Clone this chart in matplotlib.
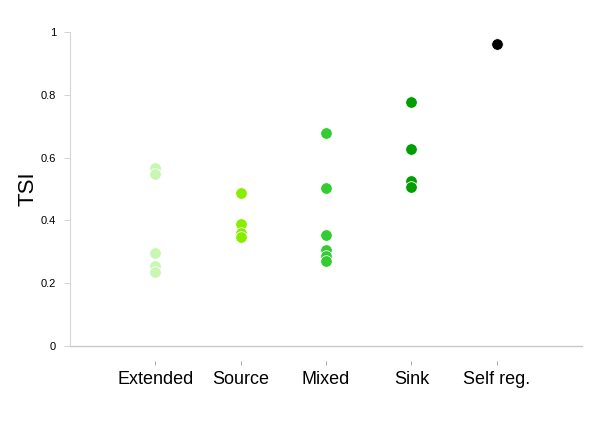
import matplotlib
matplotlib.use("Agg")
import matplotlib.pyplot as plt

plt.rcParams['font.family'] = ['Liberation Sans', 'DejaVu Sans']

# data
categories = ["Extended", "Source", "Mixed", "Sink", "Self reg."]
extended = [0.568, 0.547, 0.297, 0.256, 0.235]
source = [0.488, 0.390, 0.359, 0.346]
mixed = [0.679, 0.504, 0.353, 0.305, 0.288, 0.272]
sink = [0.777, 0.626, 0.525, 0.505]
self_reg = [0.962]
groups = [extended, source, mixed, sink, self_reg]
colors = ["#c8f7b4", "#88ee00", "#33cc33", "#009e00", "#000000"]

fig = plt.figure(figsize=(6, 4.24), dpi=100)
ax = fig.add_axes([0.1167, 0.184, 0.8533, 0.7405])

for i, (vals, col) in enumerate(zip(groups, colors)):
    ax.scatter([i + 1] * len(vals), vals, s=70, color=col,
               edgecolors="white", linewidths=0.6, zorder=3)

ax.set_xlim(0, 6)
ax.set_ylim(0, 1)
ax.set_xticks(range(1, 6), categories)
ax.set_yticks([0, 0.2, 0.4, 0.6, 0.8, 1], ["0", "0.2", "0.4", "0.6", "0.8", "1"])
ax.set_ylabel("TSI", fontsize=16)
ax.yaxis.set_label_coords(-0.062, 0.5)

for s in ["top", "right"]:
    ax.spines[s].set_visible(False)
ax.spines["left"].set_color("#d8d8d8")
ax.spines["left"].set_linewidth(0.8)
ax.spines["bottom"].set_position(("outward", 11))
ax.spines["bottom"].set_visible(False)
ax.axhline(0, color="#c8c8c8", linewidth=1.0, clip_on=False)

ax.tick_params(axis="x", length=3, width=0.6, color="#999999", pad=4, labelsize=13)
ax.tick_params(axis="y", length=4, width=0.6, color="#cccccc", pad=6, labelsize=8)

fig.savefig("out.png", dpi=100)
